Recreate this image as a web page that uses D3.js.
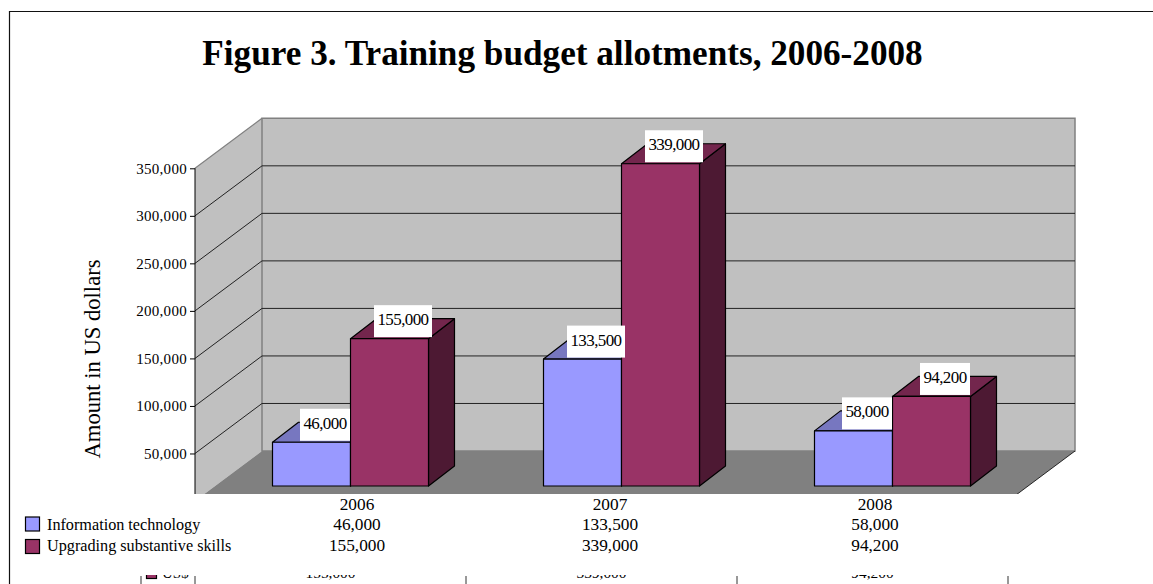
<!DOCTYPE html>
<html>
<head>
<meta charset="utf-8">
<style>
  html, body { margin: 0; padding: 0; background: #fff; overflow: hidden; }
  svg { display: block; }
  text { font-family: "Liberation Serif", serif; fill: #000; }
</style>
<script src="https://cdn.jsdelivr.net/npm/d3@7"></script>
</head>
<body>
<svg id="chart" width="1153" height="584"></svg>
<script>
var years = ["2006", "2007", "2008"];
var seriesNames = ["Information technology", "Upgrading substantive skills"];
var infoTech = [46000, 133500, 58000];
var skills = [155000, 339000, 94200];
var axisTicks = [50000, 100000, 150000, 200000, 250000, 300000, 350000];
var wallTicks = [50000, 100000, 150000, 200000, 250000, 300000];
var cutOffLabel = "US$";

var colors = {
  "Information technology": {front: "#9999ff", top: "#7777c0", side: "#4d4d80"},
  "Upgrading substantive skills": {front: "#993366", top: "#73264d", side: "#4d1933"}
};

var svg = d3.select("#chart");
var fmt = d3.format(",");

// 3d offsets: back wall sits this far from the front axis
var depthX = 67, depthY = -50;
var barDepthX = 26, barDepthY = -20;
var barLift = 15;

var y = d3.scaleLinear().domain([0, 350000]).range([501, 168.3]);
var x = d3.scaleBand().domain(years).range([195, 1008]);
var xInner = d3.scaleBand().domain(seriesNames).range([77.5, 233.5]);
// the table columns are not lined up with the bars in the original
var tableX = d3.scaleOrdinal().domain(years).range([357, 610, 875]);

function pts(list) {
  return list.map(function(p) { return p.join(","); }).join(" ");
}

// page frame, only top and left show
svg.append("path")
  .attr("d", "M1153,11.5H9.5V584")
  .attr("fill", "none")
  .attr("stroke", "#111")
  .attr("stroke-width", 1.2);

svg.append("text")
  .attr("x", 562.5).attr("y", 65)
  .attr("text-anchor", "middle")
  .attr("font-size", 35.2)
  .attr("font-weight", "bold")
  .text("Figure 3. Training budget allotments, 2006-2008");

svg.append("defs").append("clipPath").attr("id", "plotClip")
  .append("rect").attr("x", 0).attr("y", 0).attr("width", 1153).attr("height", 494);
d3.select("defs").append("clipPath").attr("id", "rowClip")
  .append("rect").attr("x", 0).attr("y", 575).attr("width", 1153).attr("height", 9);

var plot = svg.append("g").attr("clip-path", "url(#plotClip)");

var x0 = x.range()[0], x1 = x.range()[1];
var y0 = y(0), yTop = y(350000);

// left wall
plot.append("polygon")
  .attr("points", pts([[x0, yTop], [x0 + depthX, yTop + depthY], [x0 + depthX, y0 + depthY], [x0, y0]]))
  .attr("fill", "#c0c0c0");

// back wall
plot.append("polygon")
  .attr("points", pts([[x0 + depthX, yTop + depthY], [x1 + depthX, yTop + depthY], [x1 + depthX, y0 + depthY], [x0 + depthX, y0 + depthY]]))
  .attr("fill", "#c0c0c0")
  .attr("stroke", "#808080")
  .attr("stroke-width", 1.5);

plot.append("line")
  .attr("x1", x0).attr("y1", yTop)
  .attr("x2", x0 + depthX).attr("y2", yTop + depthY)
  .attr("stroke", "#808080").attr("stroke-width", 1.2);

// floor
plot.append("polygon")
  .attr("points", pts([[x0, y0], [x0 + depthX, y0 + depthY], [x1 + depthX, y0 + depthY], [x1, y0]]))
  .attr("fill", "#808080");
plot.append("line")
  .attr("x1", x1 + depthX).attr("y1", y0 + depthY)
  .attr("x2", x1).attr("y2", y0)
  .attr("stroke", "#000").attr("stroke-width", 0.8);

// gridlines, going round the side wall then along the back
wallTicks.forEach(function(t) {
  plot.append("polyline")
    .attr("points", pts([[x0, y(t)], [x0 + depthX, y(t) + depthY], [x1 + depthX, y(t) + depthY]]))
    .attr("fill", "none")
    .attr("stroke", "#222")
    .attr("stroke-width", 1);
});

// bars
function drawBar(name, year, value) {
  var c = colors[name];
  var left = x(year) + xInner(name);
  var right = left + xInner.bandwidth();
  var top = y(value) - barLift;
  var base = y(0) - barLift;
  var g = plot.append("g").attr("stroke", "#000").attr("stroke-width", 1.2).attr("stroke-linejoin", "round");
  g.append("polygon").attr("fill", c.side)
    .attr("points", pts([[right, top], [right + barDepthX, top + barDepthY], [right + barDepthX, base + barDepthY], [right, base]]));
  g.append("polygon").attr("fill", c.top)
    .attr("points", pts([[left, top], [left + barDepthX, top + barDepthY], [right + barDepthX, top + barDepthY], [right, top]]));
  g.append("rect").attr("fill", c.front)
    .attr("x", left).attr("y", top)
    .attr("width", right - left).attr("height", base - top);
}

years.forEach(function(year, i) {
  drawBar(seriesNames[0], year, infoTech[i]);
  drawBar(seriesNames[1], year, skills[i]);
});

// value labels with white boxes
function drawLabel(name, year, value) {
  var cx = x(year) + xInner(name) + xInner.bandwidth() / 2 + barDepthX / 2 + 0.5;
  var top = y(value) - barLift;
  var w = value >= 100000 ? 58 : 50;
  svg.append("rect")
    .attr("x", cx - w / 2).attr("y", top - 33.5)
    .attr("width", w).attr("height", 32)
    .attr("fill", "#fff");
  svg.append("text")
    .attr("x", cx).attr("y", top - 13.5)
    .attr("text-anchor", "middle")
    .attr("font-size", 17)
    .attr("letter-spacing", -0.6)
    .text(fmt(value));
}
years.forEach(function(year, i) {
  drawLabel(seriesNames[0], year, infoTech[i]);
  drawLabel(seriesNames[1], year, skills[i]);
});

// value axis
var axis = d3.axisLeft(y).tickValues(axisTicks).tickFormat(fmt).tickSize(5).tickPadding(3);
var axisG = svg.append("g").attr("transform", "translate(" + x0 + ",0)").call(axis);
axisG.select(".domain").remove();
axisG.selectAll("line").attr("stroke", "#000").attr("stroke-width", 1);
axisG.selectAll("text")
  .attr("font-size", 15)
  .attr("font-family", "Liberation Serif")
  .attr("letter-spacing", 0.3)
  .attr("fill", "#000");
svg.append("line")
  .attr("x1", x0).attr("x2", x0)
  .attr("y1", yTop).attr("y2", 494)
  .attr("stroke", "#000").attr("stroke-width", 1);

svg.append("text")
  .attr("transform", "translate(100,359) rotate(-90)")
  .attr("text-anchor", "middle")
  .attr("font-size", 22.6)
  .text("Amount in US dollars");

// data table under the plot
var rowY = [530, 551];
var swatchY = [524, 546.5];

years.forEach(function(year, i) {
  var cx = tableX(year);
  svg.append("text").attr("x", cx).attr("y", 510)
    .attr("text-anchor", "middle").attr("font-size", 17.3).text(year);
  svg.append("text").attr("x", cx).attr("y", rowY[0])
    .attr("text-anchor", "middle").attr("font-size", 17.3).text(fmt(infoTech[i]));
  svg.append("text").attr("x", cx).attr("y", rowY[1])
    .attr("text-anchor", "middle").attr("font-size", 17.3).text(fmt(skills[i]));
});

seriesNames.forEach(function(name, i) {
  svg.append("rect")
    .attr("x", 25.5).attr("y", swatchY[i] - 7)
    .attr("width", 14).attr("height", 14)
    .attr("fill", colors[name].front)
    .attr("stroke", "#000").attr("stroke-width", 1.2);
  svg.append("text")
    .attr("x", 47).attr("y", rowY[i])
    .attr("font-size", 16.2)
    .text(name);
});

// leftover bottom row of another table, cut off by the crop
var cut = svg.append("g").attr("clip-path", "url(#rowClip)");
cut.append("rect")
  .attr("x", 146.5).attr("y", 568)
  .attr("width", 10).attr("height", 10.5)
  .attr("fill", colors[seriesNames[1]].front)
  .attr("stroke", "#000").attr("stroke-width", 1.2);
cut.append("text").attr("x", 162).attr("y", 578)
  .attr("font-size", 15).attr("fill", "#333").text(cutOffLabel);
[141].concat(x.domain().map(function(d) { return x(d); })).concat([x1]).forEach(function(px) {
  svg.append("line")
    .attr("x1", px).attr("x2", px)
    .attr("y1", 576).attr("y2", 584)
    .attr("stroke", "#333").attr("stroke-width", 1);
});
years.forEach(function(year, i) {
  cut.append("text")
    .attr("x", x(year) + x.bandwidth() / 2).attr("y", 578)
    .attr("text-anchor", "middle")
    .attr("font-size", 15.4).attr("fill", "#333")
    .text(fmt(skills[i]));
});
</script>
</body>
</html>
